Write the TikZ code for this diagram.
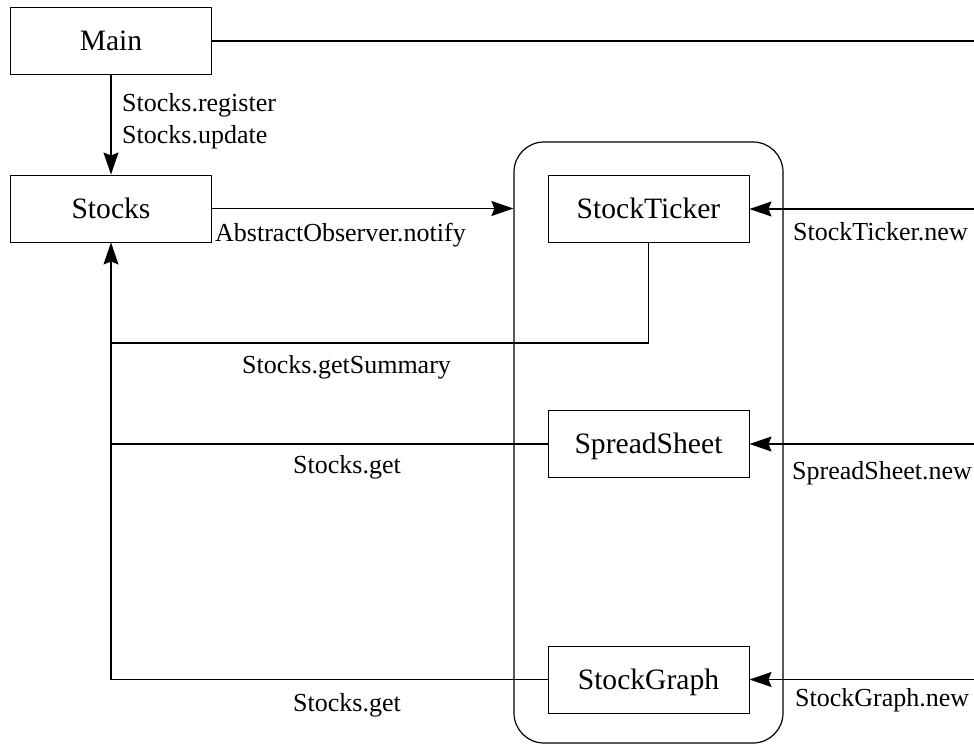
\documentclass[tikz,border=0pt]{standalone}
\usepackage{fontspec}
\setmainfont{Liberation Serif}
\usetikzlibrary{arrows.meta}

\tikzset{
  box/.style={draw, line width=1pt, minimum width=201pt, minimum height=67pt,
    inner sep=0pt, text height=19.5pt, text depth=0pt,
    font=\fontsize{29.6}{34}\selectfont},
  lbl/.style={anchor=base west, inner sep=0pt, font=\fontsize{26}{30}\selectfont},
  link/.style={line width=1.2pt},
  tip/.style={-{Stealth[length=22pt,width=15pt,inset=3pt]}},
}

\begin{document}
\begin{tikzpicture}[x=1pt,y=-1pt]
\useasboundingbox (0,0) rectangle (974,745);

% observer group
\node[draw, line width=1.2pt, rounded corners=30pt, minimum width=269pt,
      minimum height=601pt, inner sep=0pt] (group) at (648.5,442.5) {};

% components
\node[box] (main)   at (111,40.5)  {Main};
\node[box] (stocks) at (111,208.5) {Stocks};
\node[box] (ticker) at (648.5,209) {StockTicker};
\node[box] (sheet)  at (648.5,444) {SpreadSheet};
\node[box] (graph)  at (648.5,679.5) {StockGraph};

% free ends at the right border
\coordinate (mainout)  at (974,41);
\coordinate (tickerin) at (974,209);
\coordinate (sheetin)  at (974,444);
\coordinate (graphin)  at (974,679.5);
\coordinate (bend)     at (111,343);

% connectors
\draw[line width=2pt] (main.east |- mainout) -- (mainout);
\draw[link,tip] (main.south) -- (stocks.north);
\draw[link,tip] (stocks.east) -- (stocks.east -| group.west);
\draw[link,tip] (tickerin) -- (ticker.east);
\draw[link,tip] (sheetin) -- (sheet.east);
\draw[link,tip] (graphin) -- (graph.east);
\draw[link] (ticker.south) |- (bend);
\draw[link] (sheet.west) -- (sheet.west -| stocks.south);
\draw[link,tip] (graph.west) -| (stocks.south);

% labels
\node[lbl] (lreg) at (122,111.7) {Stocks.register};
\node[lbl] (lupd) at (122,143.3) {Stocks.update};
\node[lbl] (lnot) at (215,241) {AbstractObserver.notify};
\node[lbl] (ltn)  at (793,240) {StockTicker.new};
\node[lbl] (lsum) at (242,373) {Stocks.getSummary};
\node[lbl] (lget1) at (293,473) {Stocks.get};
\node[lbl] (lsn)  at (792,479) {SpreadSheet.new};
\node[lbl] (lget2) at (293,711.7) {Stocks.get};
\node[lbl] (lgn)  at (795,706) {StockGraph.new};
\end{tikzpicture}
\end{document}
